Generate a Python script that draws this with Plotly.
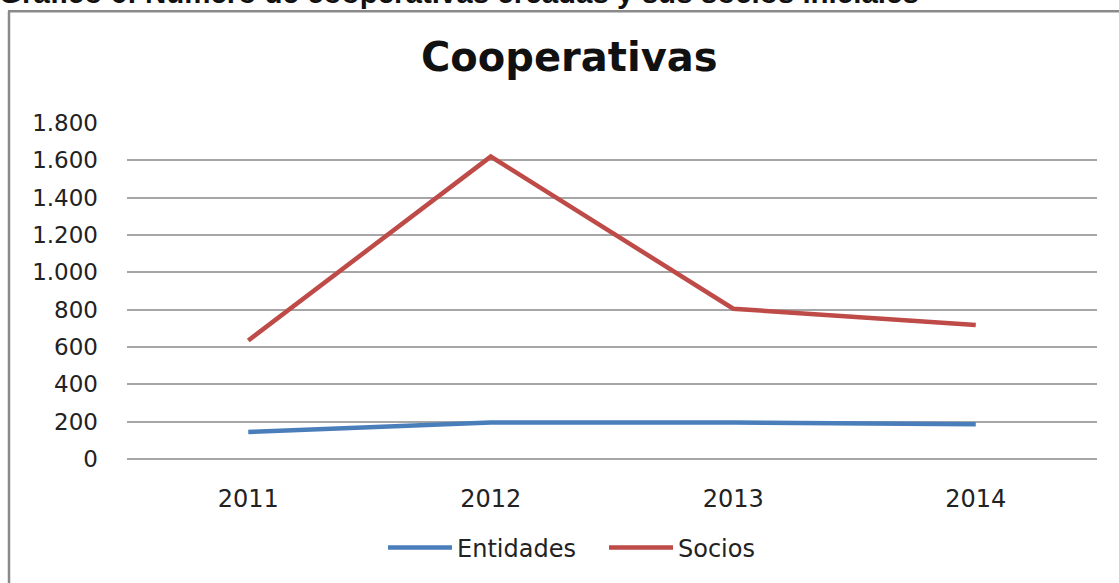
import plotly.graph_objects as go

years = ["2011", "2012", "2013", "2014"]
entidades = [145, 196, 195, 186]
socios = [635, 1620, 805, 718]
y_ticks = [0, 200, 400, 600, 800, 1000, 1200, 1400, 1600, 1800]

W, H = 1119, 583
L, R, T, B = 127, 22, 123, 120
pw, ph = W - L - R, H - T - B

def px_x(p):
    return (p - L) / pw

def px_y(p):
    return (H - B - p) / ph

FONT = "DejaVu Sans"

fig = go.Figure()
fig.add_trace(go.Scatter(x=years, y=entidades, name="Entidades", mode="lines",
                         line=dict(color="#4A7EBB", width=4.5)))
fig.add_trace(go.Scatter(x=years, y=socios, name="Socios", mode="lines",
                         line=dict(color="#BE4B48", width=4.5)))

fig.update_layout(
    width=W, height=H,
    margin=dict(l=L, r=R, t=T, b=B),
    paper_bgcolor="white", plot_bgcolor="white",
    separators=",.",
    font=dict(family=FONT, color="#222222"),
    showlegend=True,
    legend=dict(orientation="h", x=px_x(604), xanchor="center", y=px_y(553), yanchor="middle",
                font=dict(size=24, family=FONT, color="#222222"),
                itemwidth=64, entrywidth=142, tracegroupgap=0),
    xaxis=dict(type="category", range=[-0.5, 3.5], showgrid=False, showline=False,
               zeroline=False, ticks="", tickfont=dict(size=24, family=FONT, color="#222222"),
               ticklabelstandoff=23),
    yaxis=dict(range=[0, 1800], tickvals=y_ticks, tickformat=",d", showgrid=True,
               gridcolor="#A6A6A6", gridwidth=1.5, zeroline=True, zerolinecolor="#A6A6A6",
               zerolinewidth=1.5, showline=False, ticks="",
               tickfont=dict(size=23, family=FONT, color="#222222"),
               ticklabelstandoff=28),
    annotations=[
        dict(text="<b>Cooperativas</b>", xref="paper", yref="paper", x=px_x(569), y=px_y(56),
             xanchor="center", yanchor="middle", showarrow=False,
             font=dict(size=40, family=FONT, color="#111111")),
        dict(text="<b>Gráfico 6: Número de cooperativas creadas y sus socios iniciales</b>",
             xref="paper", yref="paper", x=px_x(-3), y=px_y(-9), xanchor="left", yanchor="middle",
             showarrow=False, font=dict(size=29.5, family="Liberation Sans", color="#111111")),
    ],
    shapes=[
        dict(type="line", xref="paper", yref="paper", x0=px_x(9), x1=px_x(9), y0=px_y(10), y1=px_y(600),
             line=dict(color="#8A8A8A", width=2.5)),
        dict(type="line", xref="paper", yref="paper", x0=px_x(8), x1=px_x(1130), y0=px_y(10), y1=px_y(10),
             line=dict(color="#8A8A8A", width=2.5)),
    ],
)

fig.write_html("out.html", config={"displayModeBar": False},
               post_script="document.body.style.margin='0';document.body.style.overflow='hidden';")
